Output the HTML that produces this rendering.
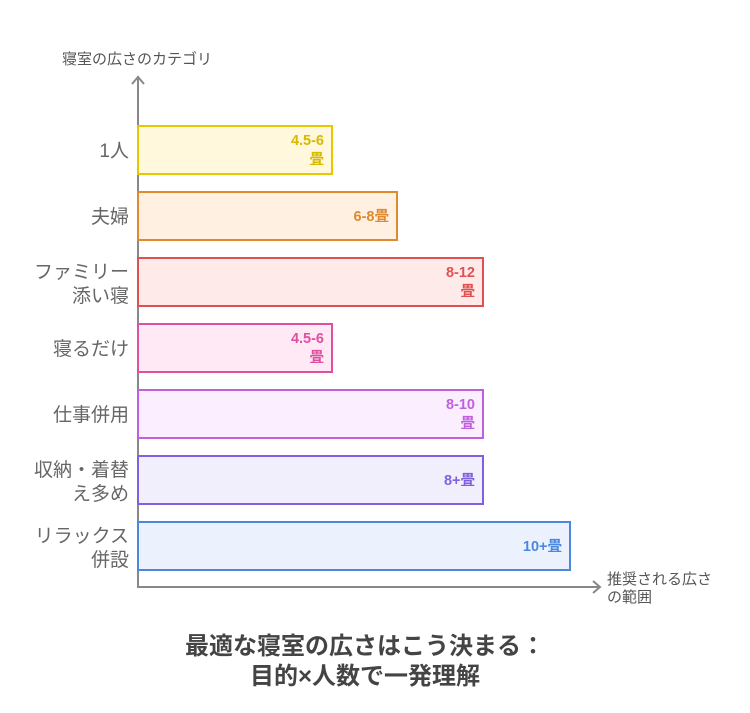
<!DOCTYPE html>
<html><head><meta charset="utf-8"><style>
body{margin:0;background:#fff;width:750px;height:708px;overflow:hidden}
text{font-family:"Liberation Sans","Noto Sans CJK JP",sans-serif}
</style></head><body>
<svg width="750" height="708" viewBox="0 0 750 708" xmlns="http://www.w3.org/2000/svg">
<text x="62" y="64" font-size="15" fill="#555">寝室の広さのカテゴリ</text>
<g stroke="#888" stroke-width="2" fill="none">
<line x1="138" y1="76" x2="138" y2="588"/>
<polyline points="132,84 138,77 144,84"/>
<line x1="138" y1="587" x2="600" y2="587"/>
<polyline points="593,581 600,587 593,593"/>
</g>
<text x="607" y="584" font-size="15" fill="#555">推奨される広さ</text>
<text x="607" y="602" font-size="15" fill="#555">の範囲</text>
<g stroke-width="2">
<rect x="138" y="126" width="194" height="48" fill="#fff8dc" stroke="#e6c800"/>
<rect x="138" y="192" width="259" height="48" fill="#fff0e2" stroke="#e08a2e"/>
<rect x="138" y="258" width="345" height="48" fill="#ffeaea" stroke="#e05050"/>
<rect x="138" y="324" width="194" height="48" fill="#ffe9f5" stroke="#e050a0"/>
<rect x="138" y="390" width="345" height="48" fill="#fbeefe" stroke="#c060e0"/>
<rect x="138" y="456" width="345" height="48" fill="#f2effd" stroke="#8060e0"/>
<rect x="138" y="522" width="432" height="48" fill="#ebf2fe" stroke="#4a88e0"/>
</g>
<g font-size="14.5" font-weight="bold" text-anchor="end">
<text x="324" y="145" fill="#d8b800">4.5-6</text><text x="324" y="164" fill="#d8b800">畳</text>
<text x="389" y="221" fill="#e08a2e">6-8畳</text>
<text x="475" y="277" fill="#e05050">8-12</text><text x="475" y="296" fill="#e05050">畳</text>
<text x="324" y="343" fill="#e050a0">4.5-6</text><text x="324" y="362" fill="#e050a0">畳</text>
<text x="475" y="409" fill="#c060e0">8-10</text><text x="475" y="428" fill="#c060e0">畳</text>
<text x="475" y="485" fill="#8060e0">8+畳</text>
<text x="562" y="551" fill="#4a88e0">10+畳</text>
</g>
<g font-size="19" text-anchor="end" fill="#666">
<text x="129" y="157">1人</text>
<text x="129" y="223">夫婦</text>
<text x="129" y="278">ファミリー</text><text x="129" y="302">添い寝</text>
<text x="129" y="355">寝るだけ</text>
<text x="129" y="421">仕事併用</text>
<text x="129" y="476">収納・着替</text><text x="129" y="500">え多め</text>
<text x="129" y="542">リラックス</text><text x="129" y="566">併設</text>
</g>
<g font-size="24" font-weight="bold" fill="#444" text-anchor="middle">
<text x="365" y="654">最適な寝室の広さはこう決まる：</text>
<text x="365" y="684">目的×人数で一発理解</text>
</g>
</svg>
</body></html>
